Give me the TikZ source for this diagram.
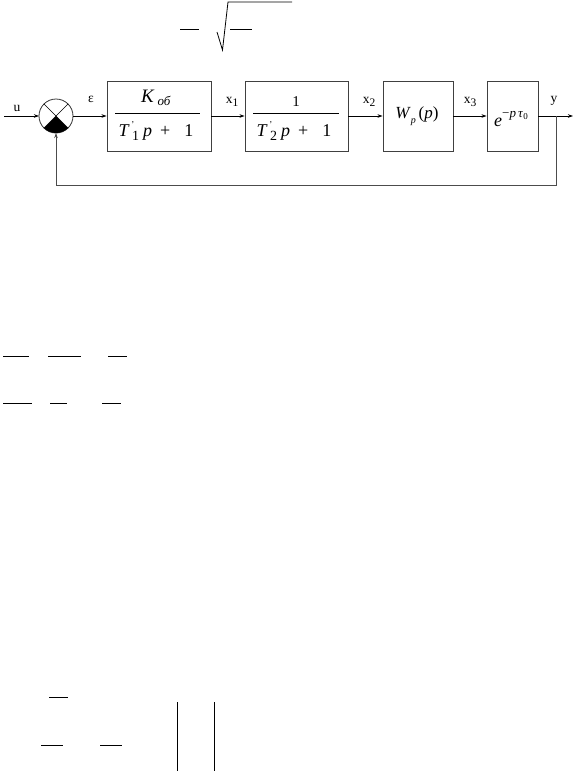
\documentclass[tikz,border=0pt]{standalone}
\usepackage{fontspec}
\setmainfont{Liberation Serif}
\usetikzlibrary{arrows.meta}
\tikzset{
  blk/.style={draw=black!75, line width=0.9pt, inner sep=0pt, minimum height=70pt},
  sig/.style={line width=0.8pt, -{Stealth[length=5pt,width=3.5pt]}},
  wire/.style={line width=0.8pt, draw=black!70},
  lbl/.style={font=\fontsize{13.5}{13.5}\selectfont, inner sep=0pt},
  mtx/.style={font=\fontsize{18}{18}\selectfont, inner sep=0pt},
  stray/.style={line width=0.8pt}
}
\newcommand{\lsub}[1]{\raisebox{-0.45ex}{\fontsize{11.5}{11.5}\selectfont #1}}
\newcommand{\tden}[1]{\textit{T}\rlap{\raisebox{1.1ex}{\fontsize{9}{9}\selectfont\,'}}\raisebox{-0.5ex}{\fontsize{14}{14}\selectfont\,#1}\hspace{4pt}\textit{p}\hspace{8pt}+\hspace{14pt}1}
\begin{document}
\begin{tikzpicture}[x=1pt,y=-1pt]
\useasboundingbox (0,0) rectangle (582,771);
% stray equation remnants
\draw[stray] (180,29.5) -- (199,29.5);
\draw[stray] (217,32) -- (222.5,50) -- (228,2) -- (292,2);
\draw[stray] (230,29.5) -- (252,29.5);
\draw[stray] (3,356) -- (29,356);
\draw[stray] (48,356) -- (81,356);
\draw[stray] (108,356) -- (127,356);
\draw[stray] (3,403) -- (32,403);
\draw[stray] (50,403) -- (67,403);
\draw[stray] (102,403) -- (121,403);
\draw[stray] (49,697) -- (68,697);
\draw[stray] (41,745) -- (63,745);
\draw[stray] (100,745) -- (122,745);
\draw[stray] (177,702) -- (177,771);
\draw[stray] (214,702) -- (214,771);
% summing junction
\node[circle, draw=black!80, line width=0.8pt, minimum size=34pt, inner sep=0pt, outer sep=0pt] (s) at (56,116) {};
\fill (s.center) -- (s.south west) arc[start angle=225, end angle=315, radius=17pt] -- cycle;
\draw[line width=0.7pt] (s.north west) -- (s.south east);
\draw[line width=0.7pt] (s.north east) -- (s.south west);
% blocks
\node[blk, minimum width=104pt] (b1) at (159,116) {};
\node[blk, minimum width=103pt] (b2) at (296.5,116) {};
\node[blk, minimum width=70pt] (b3) at (418,116) {};
\node[blk, minimum width=51pt] (b4) at (512.5,116) {};
% block texts
\node[mtx, font=\fontsize{19}{19}\selectfont] (n1) at (156,98) {\textit{K}\hspace{3pt}\raisebox{-0.35ex}{\fontsize{13}{13}\selectfont\textit{об}}};
\draw[line width=0.8pt] (115,113) -- (200,113);
\node[mtx] (d1) at (156,131) {\tden{1}};
\node[mtx, font=\fontsize{15}{15}\selectfont] (n2) at (296,102) {1};
\draw[line width=0.8pt] (253,113) -- (339,113);
\node[mtx] (d2) at (294,131) {\tden{2}};
\node[mtx, font=\fontsize{17}{17}\selectfont] (w) at (417,116) {\textit{W}\raisebox{-0.6ex}{\fontsize{10}{10}\selectfont\textit{p}}\,(\textit{p})};
\node[mtx, font=\fontsize{18}{18}\selectfont] (e) at (511,119) {\textit{e}\raisebox{1.0ex}{\fontsize{13}{13}\selectfont −\textit{p}\,\textit{τ}\raisebox{-0.35ex}{\fontsize{9}{9}\selectfont 0}}};
% signal lines
\coordinate (in) at (4,116);
\coordinate (out) at (573,116);
\coordinate (br) at (556,116);
\coordinate (fb1) at (556,185);
\coordinate (fb2) at (56,185);
\draw[sig] (in) -- (s.west);
\draw[sig] (s.east) -- (b1.west);
\draw[sig] (b1.east) -- (b2.west);
\draw[sig] (b2.east) -- (b3.west);
\draw[sig] (b3.east) -- (b4.west);
\draw[sig] (b4.east) -- (out);
\draw[wire] (br) -- (fb1) -- (fb2);
\draw[wire, -{Stealth[length=5pt,width=3.5pt]}] (fb2) -- (s.south);
% labels
\node[lbl] (lu) at (17,108) {u};
\node[lbl] (leps) at (91,99) {ε};
\node[lbl] (lx1) at (232,102) {x\lsub{1}};
\node[lbl] (lx2) at (369,102) {x\lsub{2}};
\node[lbl] (lx3) at (470,102) {x\lsub{3}};
\node[lbl] (ly) at (554,101) {y};
\end{tikzpicture}
\end{document}
